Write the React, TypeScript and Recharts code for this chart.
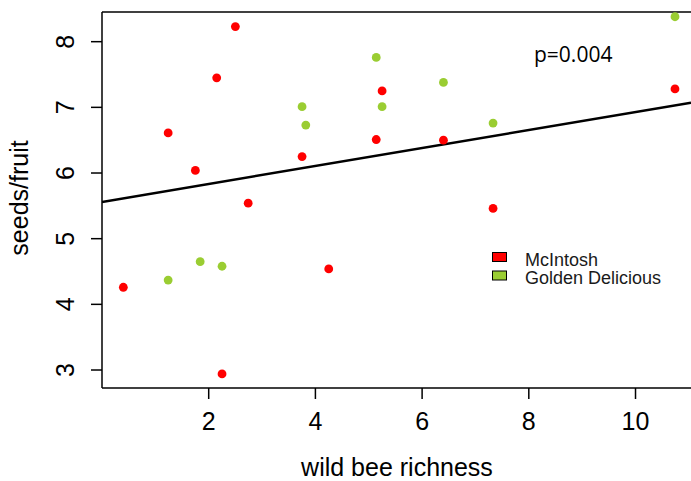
import React from 'react';
import { ScatterChart, Scatter, XAxis, YAxis, ReferenceLine, Customized } from 'recharts';

const mcintoshX = [0.40, 1.24, 1.75, 2.15, 2.50, 2.74, 2.25, 3.75, 4.25, 5.14, 5.25, 6.40, 7.33, 10.74];
const mcintoshY = [4.26, 6.61, 6.04, 7.45, 8.23, 5.54, 2.94, 6.25, 4.54, 6.51, 7.25, 6.50, 5.46, 7.28];
const goldenX = [1.24, 1.84, 2.25, 3.75, 3.82, 5.14, 5.25, 6.40, 7.33, 10.74];
const goldenY = [4.37, 4.65, 4.58, 7.01, 6.73, 7.76, 7.01, 7.38, 6.76, 8.38];
const fitX = [0, 11.04];
const fitY = [5.56, 7.07];
const xTicks = [2, 4, 6, 8, 10];
const yTicks = [3, 4, 5, 6, 7, 8];
const xDomain = [0, 11.04];
const yDomain = [2.726, 8.452];
const seriesNames = ['McIntosh', 'Golden Delicious'];
const seriesColors = ['#FF0000', '#9ACD32'];
const pLabel = 'p=0.004';

const mcintosh = mcintoshX.map((x, i) => ({ x, y: mcintoshY[i] }));
const golden = goldenX.map((x, i) => ({ x, y: goldenY[i] }));
const fitSegment = fitX.map((x, i) => ({ x, y: fitY[i] }));

const FONT = '"Liberation Sans", Arial, sans-serif';

const XTick = (props: any) => {
  const { x, y, payload } = props;
  return (
    <text x={x} y={y} textAnchor="middle" fontFamily={FONT} fontSize={25} fill="#000">
      {payload.value}
    </text>
  );
};

const YTick = (props: any) => {
  const { x, y, payload } = props;
  return (
    <text transform={`translate(${x},${y}) rotate(-90)`} textAnchor="middle" fontFamily={FONT} fontSize={25} fill="#000">
      {payload.value}
    </text>
  );
};

const Dot = (color: string) => (props: any) => (
  <circle cx={props.cx} cy={props.cy} r={4.4} fill={color} />
);

const Overlay = () => (
  <g>
    <text x={534} y={62} fontFamily='"Open Sans", sans-serif' fontSize={21} fill="#000">{pLabel}</text>
    {seriesNames.map((name, i) => (
      <g key={name}>
        <rect x={492.5} y={252.5 + i * 18.5} width={14} height={9} fill={seriesColors[i]} stroke="#000" strokeWidth={1} />
        <text x={525} y={266 + i * 17.5} fontFamily={FONT} fontSize={18} fill="#1a1a1a">{name}</text>
      </g>
    ))}
    <text x={397} y={476} textAnchor="middle" fontFamily={FONT} fontSize={25} fill="#000">wild bee richness</text>
    <text transform="translate(28,198) rotate(-90)" textAnchor="middle" fontFamily={FONT} fontSize={25} fill="#000">seeds/fruit</text>
  </g>
);

export default function App() {
  return (
    <div style={{ position: 'absolute', left: 0, top: 0, width: 691, height: 481, overflow: 'hidden', background: '#fff' }}>
      <ScatterChart width={691} height={481} margin={{ top: 12, right: 0, bottom: 0, left: 0 }}>
        <XAxis
          type="number"
          dataKey="x"
          domain={xDomain}
          ticks={xTicks}
          allowDataOverflow
          height={93}
          axisLine={{ stroke: '#000', strokeWidth: 1.5 }}
          tickLine={{ stroke: '#000', strokeWidth: 1.5 }}
          tickSize={11}
          tickMargin={31}
          tick={<XTick />}
        />
        <YAxis
          type="number"
          dataKey="y"
          domain={yDomain}
          ticks={yTicks}
          allowDataOverflow
          width={102}
          axisLine={{ stroke: '#000', strokeWidth: 1.5 }}
          tickLine={{ stroke: '#000', strokeWidth: 1.5 }}
          tickSize={11}
          tickMargin={17}
          tick={<YTick />}
        />
        <ReferenceLine y={yDomain[1]} stroke="#000" strokeWidth={1.5} />
        <ReferenceLine segment={fitSegment} stroke="#000" strokeWidth={2.5} ifOverflow="hidden" />
        <Scatter name={seriesNames[0]} data={mcintosh} fill={seriesColors[0]} shape={Dot(seriesColors[0])} isAnimationActive={false} />
        <Scatter name={seriesNames[1]} data={golden} fill={seriesColors[1]} shape={Dot(seriesColors[1])} isAnimationActive={false} />
        <Customized component={Overlay} />
      </ScatterChart>
    </div>
  );
}
